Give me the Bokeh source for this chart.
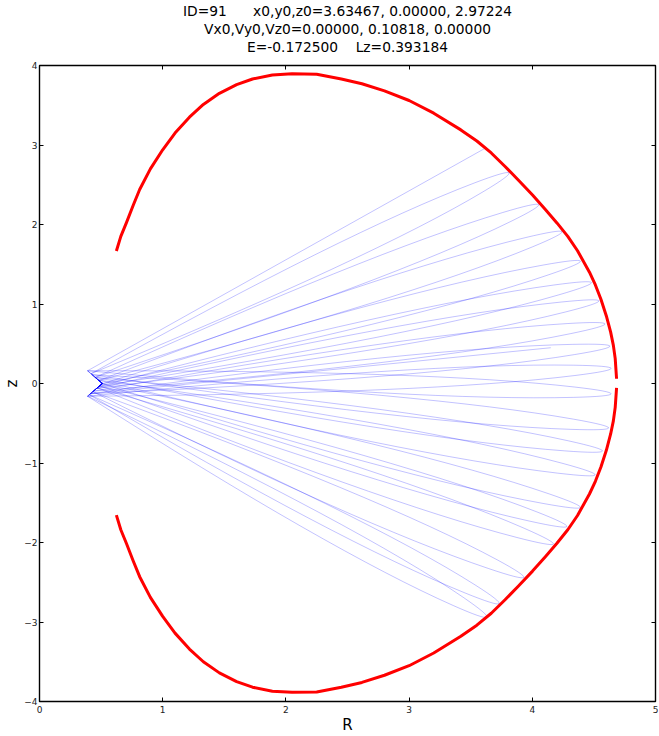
import math
from bokeh.plotting import figure
from bokeh.models import Range1d, FixedTicker, Title, LinearAxis, CustomLabelingPolicy
from bokeh.embed import file_html
from bokeh.resources import INLINE

# ---------------- data ----------------
title_lines = [
    "ID=91\u00a0\u00a0\u00a0\u00a0\u00a0\u00a0x0,y0,z0=3.63467, 0.00000, 2.97224",
    "Vx0,Vy0,Vz0=0.00000, 0.10818, 0.00000",
    "E=-0.172500\u00a0\u00a0\u00a0\u00a0Lz=0.393184",
]
x_ticks = [0, 1, 2, 3, 4, 5]
y_ticks = [-4, -3, -2, -1, 0, 1, 2, 3, 4]

# zero-velocity curve, upper branch (R, z)
zvc_up_r = [0.624, 0.66, 0.705, 0.76, 0.813, 0.90, 1.0, 1.10, 1.217, 1.33, 1.46, 1.60, 1.729,
            1.89, 2.05, 2.25, 2.45, 2.617, 2.80, 3.0, 3.2, 3.42, 3.55, 3.667, 3.779, 3.886, 4.002,
            4.106, 4.20, 4.288, 4.367, 4.464, 4.512, 4.557, 4.601, 4.636, 4.658, 4.673, 4.684]
zvc_up_z = [1.666, 1.85, 2.02, 2.24, 2.44, 2.70, 2.94, 3.15, 3.35, 3.51, 3.65, 3.76, 3.83,
            3.88, 3.896, 3.89, 3.83, 3.77, 3.68, 3.56, 3.40, 3.19, 3.05, 2.90, 2.73, 2.56, 2.37,
            2.19, 2.02, 1.85, 1.67, 1.40, 1.24, 1.06, 0.85, 0.646, 0.48, 0.3125, 0.06]
# lower branch
zvc_dn_r = [0.624, 0.66, 0.705, 0.76, 0.813, 0.90, 1.0, 1.10, 1.217, 1.33, 1.46, 1.60, 1.729,
            1.89, 2.05, 2.25, 2.45, 2.617, 2.80, 3.0, 3.2, 3.42, 3.55, 3.667, 3.779, 3.886, 4.002,
            4.106, 4.20, 4.288, 4.367, 4.464, 4.512, 4.557, 4.601, 4.636, 4.658, 4.673, 4.684]
zvc_dn_z = [-1.655, -1.84, -2.01, -2.23, -2.43, -2.69, -2.93, -3.14, -3.34, -3.50, -3.64, -3.75, -3.82,
            -3.87, -3.885, -3.88, -3.82, -3.76, -3.67, -3.55, -3.39, -3.18, -3.04, -2.89, -2.72, -2.55, -2.36,
            -2.18, -2.01, -1.84, -1.66, -1.39, -1.23, -1.05, -0.84, -0.635, -0.47, -0.30, -0.055]

# orbit: outer turning points in order of visit (first = start, last = end of integration)
tip_r = [3.63, 3.63, 3.81, 3.73, 4.05, 3.93, 4.24, 4.17, 4.39, 4.28, 4.48, 4.39, 4.54, 4.51,
         4.59, 4.57, 4.63, 4.62, 4.64, 4.64, 4.15]
tip_z = [2.97, -2.94, 2.65, -2.77, 2.25, -2.44, 1.91, -2.02, 1.54, -1.80, 1.27, -1.56, 1.04, -1.15,
         0.75, -0.85, 0.47, -0.56, 0.19, -0.13, 0.45]
# inner turning points on the notch near the axis, one per visit
in_r = [0.39, 0.39, 0.418, 0.404, 0.452, 0.433, 0.481, 0.469, 0.506, 0.488, 0.483, 0.508, 0.464, 0.477,
        0.438, 0.452, 0.414, 0.427, 0.39, 0.39, 0.41]
in_z = [0.16, -0.16, 0.123, -0.141, 0.077, -0.103, 0.038, -0.055, -0.005, -0.030, -0.036, -0.003,
        -0.062, 0.044, -0.096, 0.078, -0.128, 0.111, -0.16, 0.16, -0.13]
notch_r = 0.51
notch_z = 0.0

# ---------------- drawing geometry (style) ----------------
LOOP_LEN = 0.30    # length of the rounded loop at each outer turning point (data units)
LOOP_HALF = 0.065  # half width of that loop
LEG_PULL = 2.0     # how far back the leg follows the loop's tangent

n = len(tip_r)
arr_pt, dep_pt, ctrl = [None] * n, [None] * n, [None] * n
for i in range(n):
    dr, dz = in_r[i] - tip_r[i], in_z[i] - tip_z[i]
    d = math.hypot(dr, dz)
    ur, uz = dr / d, dz / d
    pr, pz = -uz, ur
    if i == 0 or i == n - 1:
        arr_pt[i] = dep_pt[i] = (tip_r[i], tip_z[i])
        continue
    cr, cz = tip_r[i] + LOOP_LEN * ur, tip_z[i] + LOOP_LEN * uz
    arr_pt[i] = (cr + LOOP_HALF * pr, cz + LOOP_HALF * pz)
    dep_pt[i] = (cr - LOOP_HALF * pr, cz - LOOP_HALF * pz)
    ctrl[i] = (tip_r[i] - LOOP_LEN * ur, tip_z[i] - LOOP_LEN * uz)

# inner connections along the notch
xs, ys = [], []
for i in range(n - 1):
    xs.append([in_r[i], notch_r, in_r[i + 1]])
    ys.append([in_z[i], notch_z, in_z[i + 1]])

# legs (notch -> loop) that join each loop smoothly, and the loops themselves
qx0, qy0, qx1, qy1, qcx, qcy = [], [], [], [], [], []
for i in range(n):
    ends = []
    if i > 0:
        ends.append(arr_pt[i])
    if i < n - 1:
        ends.append(dep_pt[i])
    for er, ez in ends:
        qx0.append(in_r[i]); qy0.append(in_z[i])
        qx1.append(er); qy1.append(ez)
        if ctrl[i] is None:
            qcx.append((in_r[i] + er) / 2); qcy.append((in_z[i] + ez) / 2)
        else:
            qcx.append(er + LEG_PULL * (er - ctrl[i][0]))
            qcy.append(ez + LEG_PULL * (ez - ctrl[i][1]))
    if ctrl[i] is not None:
        qx0.append(arr_pt[i][0]); qy0.append(arr_pt[i][1])
        qx1.append(dep_pt[i][0]); qy1.append(dep_pt[i][1])
        qcx.append(ctrl[i][0]); qcy.append(ctrl[i][1])

FONT = "DejaVu Sans"
p = figure(width=659, height=736, x_range=Range1d(0, 5), y_range=Range1d(-4, 4),
           output_backend="svg", toolbar_location=None, title=None,
           x_axis_label="R", y_axis_label="z",
           min_border_left=10, min_border_right=4, min_border_top=0, min_border_bottom=0)
p.background_fill_color = "white"
p.border_fill_color = "white"
p.outline_line_color = "black"
p.outline_line_width = 1.4
p.xgrid.grid_line_color = None
p.ygrid.grid_line_color = None

minus = "\u2212"
p.xaxis.ticker = FixedTicker(ticks=x_ticks)
p.yaxis.ticker = FixedTicker(ticks=y_ticks)
p.yaxis.major_label_overrides = {t: (minus + str(-t) if t < 0 else str(t)) for t in y_ticks}
for ax in (p.xaxis[0], p.yaxis[0]):
    ax.axis_line_color = None
    ax.major_tick_in = 4
    ax.major_tick_out = 0
    ax.minor_tick_in = 0
    ax.minor_tick_out = 0
    ax.major_tick_line_color = "black"
    ax.major_label_text_font = FONT
    ax.major_label_text_font_size = "9px"
    ax.major_label_text_color = "#222222"
    ax.major_label_standoff = 2
    ax.axis_label_text_font = FONT
    ax.axis_label_text_font_size = "15px"
    ax.axis_label_text_font_style = "normal"
    ax.axis_label_text_color = "black"
    ax.axis_label_standoff = 0
p.xaxis[0].major_label_standoff = 4

# tick marks on the top and right edges (no labels)
hide_all = CustomLabelingPolicy(code="""
    for (const i of indices)
        indices.unset(i)
    return indices
""")
top_ax = LinearAxis(ticker=FixedTicker(ticks=x_ticks), major_label_policy=hide_all)
right_ax = LinearAxis(ticker=FixedTicker(ticks=y_ticks), major_label_policy=hide_all)
for ax in (top_ax, right_ax):
    ax.axis_line_color = None
    ax.major_tick_in = 4
    ax.major_tick_out = 0
    ax.minor_tick_in = 0
    ax.minor_tick_out = 0
top_ax.major_label_text_font_size = "9px"
top_ax.major_label_standoff = 2
right_ax.major_label_text_font_size = "1px"
right_ax.major_label_standoff = 0
p.add_layout(top_ax, "above")
p.add_layout(right_ax, "right")

for k, line in enumerate(reversed(title_lines)):
    p.add_layout(Title(text=line, align="center", text_font=FONT, text_font_size="13.8px",
                       text_font_style="normal", text_color="black",
                       standoff=0, offset=0), "above")

p.multi_line(xs, ys, line_color="blue", line_alpha=0.3, line_width=0.8)
p.quadratic(x0=qx0, y0=qy0, x1=qx1, y1=qy1, cx=qcx, cy=qcy,
            line_color="blue", line_alpha=0.3, line_width=0.8)
p.line(zvc_up_r, zvc_up_z, line_color="red", line_width=3, line_join="round")
p.line(zvc_dn_r, zvc_dn_z, line_color="red", line_width=3, line_join="round")

open("out.html", "w").write(file_html(p, INLINE))
